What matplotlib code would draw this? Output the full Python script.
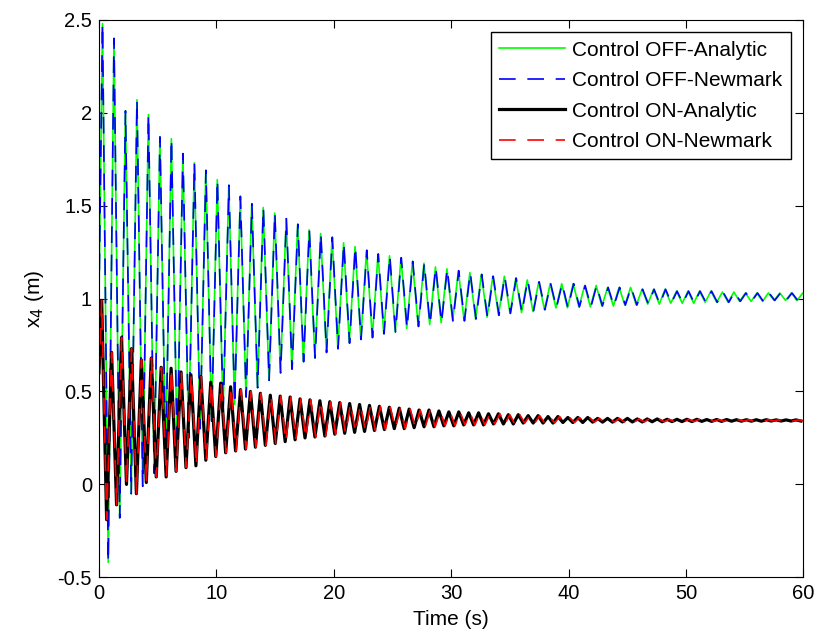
import matplotlib
matplotlib.use('Agg')
import matplotlib.pyplot as plt

plt.rcParams['font.family'] = ['Liberation Sans', 'DejaVu Sans']

# Control OFF: peak / trough of every cycle
off_t0 = 0.3        # time of the first peak (s)
off_period = 0.978  # s
off_start = 1.0
off_peaks = [2.48, 2.40, 2.01, 2.07, 1.99, 1.87, 1.86, 1.78, 1.73, 1.69,
             1.64, 1.61, 1.55, 1.51, 1.49, 1.46, 1.43, 1.40, 1.37, 1.35,
             1.33, 1.30, 1.28, 1.26, 1.24, 1.23, 1.22, 1.20, 1.19, 1.17,
             1.16, 1.15, 1.14, 1.13, 1.12, 1.12, 1.11, 1.10, 1.09, 1.08,
             1.08, 1.08, 1.07, 1.07, 1.06, 1.06, 1.06, 1.05, 1.05, 1.05,
             1.04, 1.04, 1.04, 1.04, 1.035, 1.035, 1.03, 1.03, 1.03, 1.03,
             1.03, 1.03]
off_troughs = [-0.42, -0.18, -0.05, -0.01, 0.06, 0.14, 0.19, 0.25, 0.30, 0.34,
               0.39, 0.43, 0.47, 0.52, 0.56, 0.60, 0.62, 0.66, 0.68, 0.71,
               0.73, 0.76, 0.78, 0.79, 0.81, 0.82, 0.84, 0.85, 0.86, 0.87,
               0.88, 0.88, 0.89, 0.90, 0.91, 0.92, 0.925, 0.93, 0.94, 0.95,
               0.95, 0.955, 0.955, 0.96, 0.96, 0.965, 0.965, 0.97, 0.97, 0.975,
               0.975, 0.975, 0.98, 0.98, 0.98, 0.985, 0.985, 0.985, 0.99, 0.99,
               0.99, 0.99]
off_newmark_period = 0.979

# Control ON
on_t0 = 0.23
on_period = 0.845
on_start = 0.6
on_peaks = [0.99, 0.71, 0.79, 0.73, 0.67, 0.68, 0.63, 0.625, 0.605, 0.59,
            0.58, 0.55, 0.545, 0.525, 0.51, 0.50, 0.49, 0.48, 0.475, 0.47,
            0.46, 0.455, 0.45, 0.445, 0.44, 0.435, 0.43, 0.425, 0.42, 0.415,
            0.41, 0.405, 0.40, 0.40, 0.395, 0.39, 0.39, 0.385, 0.385, 0.38,
            0.38, 0.375, 0.375, 0.37, 0.37, 0.365, 0.365, 0.36, 0.36, 0.36,
            0.355, 0.355, 0.355, 0.355, 0.352, 0.352, 0.352, 0.35, 0.35, 0.35,
            0.35, 0.349, 0.349, 0.349, 0.348, 0.348, 0.348, 0.348, 0.347, 0.347,
            0.347]
on_troughs = [-0.19, -0.11, 0.00, -0.05, 0.01, 0.04, 0.04, 0.07, 0.09, 0.10,
              0.13, 0.15, 0.17, 0.18, 0.19, 0.20, 0.21, 0.22, 0.23, 0.24,
              0.25, 0.255, 0.26, 0.27, 0.275, 0.28, 0.285, 0.29, 0.295, 0.30,
              0.30, 0.305, 0.31, 0.31, 0.315, 0.315, 0.32, 0.32, 0.32, 0.325,
              0.325, 0.325, 0.33, 0.33, 0.33, 0.33, 0.333, 0.333, 0.333, 0.335,
              0.335, 0.335, 0.336, 0.336, 0.336, 0.337, 0.337, 0.338, 0.338, 0.338,
              0.339, 0.339, 0.339, 0.34, 0.34, 0.34, 0.34, 0.341, 0.341, 0.341,
              0.341]
on_newmark_period = 0.848

labels = ['Control OFF-Analytic', 'Control OFF-Newmark',
          'Control ON-Analytic', 'Control ON-Newmark']


def zigzag(start, t0, period, peaks, troughs):
    ts = [0.0]
    vs = [start]
    for k in range(len(peaks)):
        ts.append(t0 + k * period)
        vs.append(peaks[k])
        ts.append(t0 + (k + 0.5) * period)
        vs.append(troughs[k])
    return ts, vs


fig = plt.figure(figsize=(8.18, 6.4), dpi=100)
ax = fig.add_axes([0.121, 0.098, 0.861, 0.871])

dash = (0, (10, 7))
t, v = zigzag(off_start, off_t0, off_period, off_peaks, off_troughs)
ax.plot(t, v, color='#00ff00', lw=1.2, label=labels[0])
t, v = zigzag(off_start, off_t0, off_newmark_period, off_peaks, off_troughs)
ax.plot(t, v, color='#0000ff', lw=1.2, ls=dash, label=labels[1])
t, v = zigzag(on_start, on_t0, on_period, on_peaks, on_troughs)
ax.plot(t, v, color='black', lw=2.3, label=labels[2])
t, v = zigzag(on_start, on_t0, on_newmark_period, on_peaks, on_troughs)
ax.plot(t, v, color='#ff0000', lw=1.2, ls=dash, label=labels[3])

ax.set_xlim(0, 60)
ax.set_ylim(-0.5, 2.5)
ax.set_xticks([0, 10, 20, 30, 40, 50, 60])
ax.set_yticks([-0.5, 0, 0.5, 1, 1.5, 2, 2.5])
ax.set_yticklabels(['-0.5', '0', '0.5', '1', '1.5', '2', '2.5'])
ax.tick_params(direction='in', top=True, right=True, labelsize=14.5, length=6,
               pad=5)
ax.set_xlabel('Time (s)', fontsize=15, labelpad=5)
ax.set_ylabel('x$_4$ (m)', fontsize=15, labelpad=8)

leg = ax.legend(loc='upper right', fontsize=15, fancybox=False, framealpha=1,
                edgecolor='black', handlelength=3.15, handletextpad=0.35,
                labelspacing=0.55, borderaxespad=0.6, borderpad=0.4)
leg.get_frame().set_linewidth(1.0)

fig.savefig('out.png', dpi=100)
